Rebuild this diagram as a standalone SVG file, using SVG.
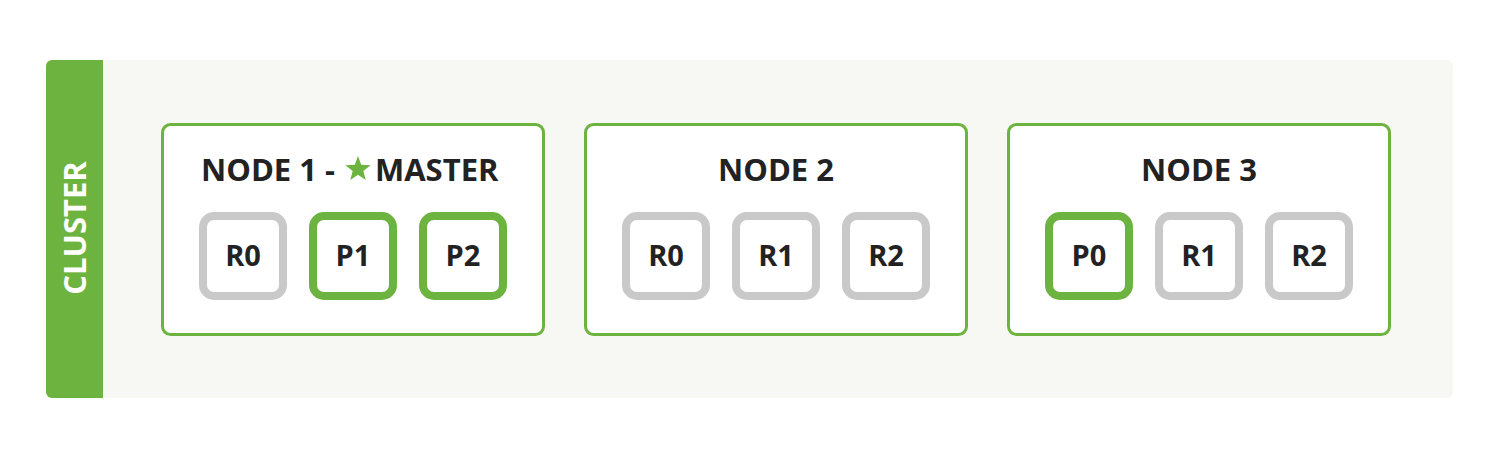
<svg xmlns="http://www.w3.org/2000/svg" width="1500" height="450" viewBox="0 0 1500 450">
<style>
.node{fill:#ffffff;stroke:#6db33f;stroke-width:3}
.title{font-family:"Open Sans","Liberation Sans",sans-serif;font-weight:bold;font-size:31px;fill:#222222}
.sh{fill:#ffffff;stroke-width:8}
.rep{stroke:#c9c9c9}
.pri{stroke:#6db33f}
.lbl{font-family:"Open Sans","Liberation Sans",sans-serif;font-weight:bold;font-size:29px;fill:#222222;text-anchor:middle}
</style>
<rect width="1500" height="450" fill="#ffffff"/>
<g id="cluster">
<rect x="46" y="60" width="1407" height="338" rx="6" fill="#f7f8f4"/>
<path d="M52 60 H103 V398 H52 A6 6 0 0 1 46 392 V66 A6 6 0 0 1 52 60 Z" fill="#6db33f"/>
<text transform="translate(86 228) rotate(-90)" text-anchor="middle" font-family="'Open Sans','Liberation Sans',sans-serif" font-weight="bold" font-size="31" fill="#ffffff">CLUSTER</text>
</g>
<g id="node1">
<rect class="node" x="162.5" y="124.5" width="381" height="210" rx="8"/>
<text class="title" x="201" y="181">NODE 1 -</text>
<path d="M358 156 L361.2 164.8 L370.6 165.2 L363.3 171 L365.8 180 L358 174.8 L350.2 180 L352.7 171 L345.4 165.2 L354.8 164.8 Z" fill="#6db33f"/>
<text class="title" x="375" y="181">MASTER</text>
<rect class="sh rep" x="203" y="216" width="80" height="80" rx="11"/>
<text class="lbl" x="243" y="266">R0</text>
<rect class="sh pri" x="313" y="216" width="80" height="80" rx="11"/>
<text class="lbl" x="353" y="266">P1</text>
<rect class="sh pri" x="423" y="216" width="80" height="80" rx="11"/>
<text class="lbl" x="463" y="266">P2</text>
</g>
<g id="node2">
<rect class="node" x="585.5" y="124.5" width="381" height="210" rx="8"/>
<text class="title" x="776" y="181" text-anchor="middle">NODE 2</text>
<rect class="sh rep" x="626" y="216" width="80" height="80" rx="11"/>
<text class="lbl" x="666" y="266">R0</text>
<rect class="sh rep" x="736" y="216" width="80" height="80" rx="11"/>
<text class="lbl" x="776" y="266">R1</text>
<rect class="sh rep" x="846" y="216" width="80" height="80" rx="11"/>
<text class="lbl" x="886" y="266">R2</text>
</g>
<g id="node3">
<rect class="node" x="1008.5" y="124.5" width="381" height="210" rx="8"/>
<text class="title" x="1199" y="181" text-anchor="middle">NODE 3</text>
<rect class="sh pri" x="1049" y="216" width="80" height="80" rx="11"/>
<text class="lbl" x="1089" y="266">P0</text>
<rect class="sh rep" x="1159" y="216" width="80" height="80" rx="11"/>
<text class="lbl" x="1199" y="266">R1</text>
<rect class="sh rep" x="1269" y="216" width="80" height="80" rx="11"/>
<text class="lbl" x="1309" y="266">R2</text>
</g>
<g id="connectors"></g>
</svg>
